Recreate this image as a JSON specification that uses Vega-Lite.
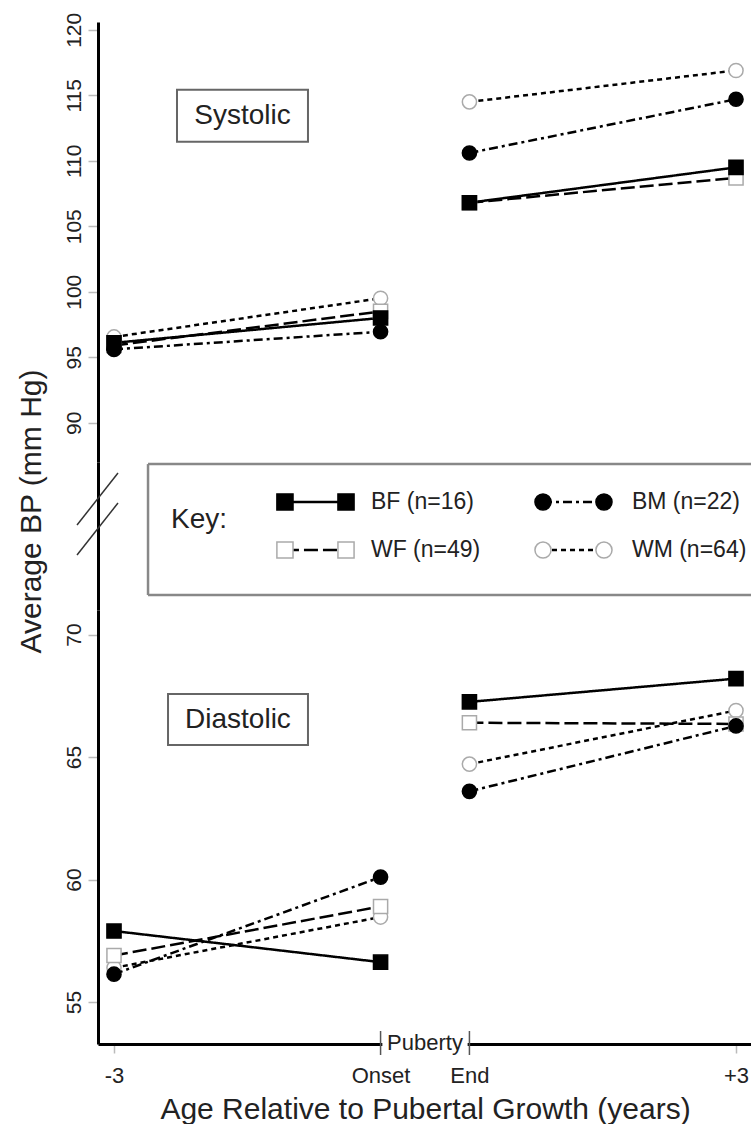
{
  "$schema": "https://vega.github.io/schema/vega-lite/v6.json",
  "background": "white",
  "padding": {"left": 15, "top": 12, "right": 0, "bottom": 0},
  "spacing": 0,
  "bounds": "flush",
  "datasets": {
    "bp": [
      {"panel": "S", "series": "WM", "seg": "pre", "x": 0, "bp": 96.55},
      {"panel": "S", "series": "WM", "seg": "pre", "x": 3, "bp": 99.5},
      {"panel": "S", "series": "WM", "seg": "post", "x": 4, "bp": 114.5},
      {"panel": "S", "series": "WM", "seg": "post", "x": 7, "bp": 116.9},
      {"panel": "S", "series": "WF", "seg": "pre", "x": 0, "bp": 95.9},
      {"panel": "S", "series": "WF", "seg": "pre", "x": 3, "bp": 98.5},
      {"panel": "S", "series": "WF", "seg": "post", "x": 4, "bp": 106.8},
      {"panel": "S", "series": "WF", "seg": "post", "x": 7, "bp": 108.7},
      {"panel": "S", "series": "BM", "seg": "pre", "x": 0, "bp": 95.6},
      {"panel": "S", "series": "BM", "seg": "pre", "x": 3, "bp": 96.95},
      {"panel": "S", "series": "BM", "seg": "post", "x": 4, "bp": 110.6},
      {"panel": "S", "series": "BM", "seg": "post", "x": 7, "bp": 114.7},
      {"panel": "S", "series": "BF", "seg": "pre", "x": 0, "bp": 96.1},
      {"panel": "S", "series": "BF", "seg": "pre", "x": 3, "bp": 98.0},
      {"panel": "S", "series": "BF", "seg": "post", "x": 4, "bp": 106.8},
      {"panel": "S", "series": "BF", "seg": "post", "x": 7, "bp": 109.5},
      {"panel": "D", "series": "WM", "seg": "pre", "x": 0, "bp": 56.4},
      {"panel": "D", "series": "WM", "seg": "pre", "x": 3, "bp": 58.47},
      {"panel": "D", "series": "WM", "seg": "post", "x": 4, "bp": 64.71},
      {"panel": "D", "series": "WM", "seg": "post", "x": 7, "bp": 66.9},
      {"panel": "D", "series": "WF", "seg": "pre", "x": 0, "bp": 56.9},
      {"panel": "D", "series": "WF", "seg": "pre", "x": 3, "bp": 58.9},
      {"panel": "D", "series": "WF", "seg": "post", "x": 4, "bp": 66.4},
      {"panel": "D", "series": "WF", "seg": "post", "x": 7, "bp": 66.35},
      {"panel": "D", "series": "BM", "seg": "pre", "x": 0, "bp": 56.14},
      {"panel": "D", "series": "BM", "seg": "pre", "x": 3, "bp": 60.1},
      {"panel": "D", "series": "BM", "seg": "post", "x": 4, "bp": 63.6},
      {"panel": "D", "series": "BM", "seg": "post", "x": 7, "bp": 66.27},
      {"panel": "D", "series": "BF", "seg": "pre", "x": 0, "bp": 57.9},
      {"panel": "D", "series": "BF", "seg": "pre", "x": 3, "bp": 56.63},
      {"panel": "D", "series": "BF", "seg": "post", "x": 4, "bp": 67.25},
      {"panel": "D", "series": "BF", "seg": "post", "x": 7, "bp": 68.2}
    ],
    "boxes": [
      {"panel": "S", "label": "Systolic", "x": 0.709, "xe": 2.183, "xc": 1.446, "y": 111.45, "ye": 115.42, "yc": 113.43},
      {"panel": "D", "label": "Diastolic", "x": 0.608, "xe": 2.183, "xc": 1.395, "y": 65.49, "ye": 67.57, "yc": 66.53}
    ],
    "legend": [
      {"series": "BF", "label": "BF (n=16)", "lx1": 1.924, "lx2": 2.611, "lt": 2.892, "ly": 7.3},
      {"series": "WF", "label": "WF (n=49)", "lx1": 1.924, "lx2": 2.611, "lt": 2.892, "ly": 4.05},
      {"series": "BM", "label": "BM (n=22)", "lx1": 4.828, "lx2": 5.514, "lt": 5.829, "ly": 7.3},
      {"series": "WM", "label": "WM (n=64)", "lx1": 4.828, "lx2": 5.514, "lt": 5.829, "ly": 4.05}
    ]
  },
  "config": {
    "view": {"stroke": null},
    "font": "Liberation Sans",
    "axis": {
      "grid": false,
      "domain": true,
      "domainColor": "black",
      "domainWidth": 3,
      "tickColor": "#bbbbbb",
      "tickWidth": 1.5,
      "labelFont": "Liberation Sans",
      "titleFont": "Liberation Sans",
      "labelColor": "#222222",
      "titleColor": "#222222",
      "titleFontWeight": "normal"
    },
    "axisY": {"labelAngle": -90, "labelAlign": "center", "labelBaseline": "bottom", "labelFontSize": 21, "tickSize": 10, "labelPadding": 4},
    "axisX": {"labelAngle": 0, "labelFontSize": 22, "tickSize": 9, "labelPadding": 12}
  },
  "vconcat": [
    {
      "width": 654,
      "height": 440,
      "layer": [
        {
          "data": {"name": "bp"},
          "transform": [{"filter": "datum.panel === 'S'"}],
          "mark": {"type": "line", "color": "black", "strokeWidth": 2.5},
          "encoding": {
            "x": {"field": "x", "type": "quantitative", "scale": {"domain": [-0.18, 7.18]}, "axis": null},
            "y": {"field": "bp", "type": "quantitative", "scale": {"domain": [87, 120.6], "nice": false, "zero": false},
                  "axis": {"title": null, "values": [90, 95, 100, 105, 110, 115, 120]}},
            "strokeDash": {"field": "series", "type": "nominal", "scale": {"domain": ["BF", "WF", "BM", "WM"], "range": [[1, 0], [14, 5], [9, 4, 3, 4], [5, 4]]}, "legend": null},
            "detail": {"field": "seg"}
          }
        },
        {
          "data": {"name": "bp"},
          "transform": [{"filter": "datum.panel === 'S'"}],
          "mark": {"type": "point", "filled": true, "size": 200, "strokeWidth": 1.5, "opacity": 1},
          "encoding": {
            "x": {"field": "x", "type": "quantitative", "scale": {"domain": [-0.18, 7.18]}, "axis": null},
            "y": {"field": "bp", "type": "quantitative", "scale": {"domain": [87, 120.6], "nice": false, "zero": false}},
            "shape": {"field": "series", "type": "nominal", "scale": {"domain": ["BF", "WF", "BM", "WM"], "range": ["square", "square", "circle", "circle"]}, "legend": null},
            "fill": {"field": "series", "type": "nominal", "scale": {"domain": ["BF", "WF", "BM", "WM"], "range": ["black", "white", "black", "white"]}, "legend": null},
            "stroke": {"field": "series", "type": "nominal", "scale": {"domain": ["BF", "WF", "BM", "WM"], "range": ["black", "#aaaaaa", "black", "#aaaaaa"]}, "legend": null}
          }
        },
        {
          "data": {"name": "boxes"},
          "transform": [{"filter": "datum.panel === 'S'"}],
          "mark": {"type": "rect", "fill": "white", "stroke": "#666666", "strokeWidth": 2},
          "encoding": {
            "x": {"field": "x", "type": "quantitative", "scale": {"domain": [-0.18, 7.18]}, "axis": null},
            "x2": {"field": "xe"},
            "y": {"field": "y", "type": "quantitative", "scale": {"domain": [87, 120.6], "nice": false, "zero": false}},
            "y2": {"field": "ye"}
          }
        },
        {
          "data": {"name": "boxes"},
          "transform": [{"filter": "datum.panel === 'S'"}],
          "mark": {"type": "text", "fontSize": 28, "font": "Liberation Sans", "color": "#222222", "align": "center", "baseline": "middle"},
          "encoding": {
            "x": {"field": "xc", "type": "quantitative", "scale": {"domain": [-0.18, 7.18]}, "axis": null},
            "y": {"field": "yc", "type": "quantitative", "scale": {"domain": [87, 120.6], "nice": false, "zero": false}},
            "text": {"field": "label"}
          }
        }
      ]
    },
    {
      "width": 654,
      "height": 148,
      "layer": [
        {
          "data": {"values": [
            {"x": 0.383, "xe": 7.18, "y": 9.86, "ye": 9.86},
            {"x": 0.383, "xe": 7.18, "y": 1.01, "ye": 1.01},
            {"x": 0.383, "xe": 0.383, "y": 1.01, "ye": 9.86}
          ]},
          "mark": {"type": "rule", "color": "#888888", "strokeWidth": 2.5},
          "encoding": {
            "x": {"field": "x", "type": "quantitative", "scale": {"domain": [-0.18, 7.18]}, "axis": null},
            "x2": {"field": "xe"},
            "y": {"field": "y", "type": "quantitative", "scale": {"domain": [0, 10], "nice": false, "zero": false},
                  "axis": {"domain": true, "ticks": false, "labels": false, "title": "Average BP (mm Hg)", "titleFontSize": 30, "titleX": -67, "titleY": 49, "titleAngle": -90, "titleAlign": "center", "titleBaseline": "middle"}},
            "y2": {"field": "ye"}
          }
        },
        {
          "data": {"values": [
            {"x": -0.416, "xe": 0.045, "y": 5.74, "ye": 9.26},
            {"x": -0.416, "xe": 0.045, "y": 3.72, "ye": 7.23}
          ]},
          "mark": {"type": "rule", "color": "#333333", "strokeWidth": 1.5},
          "encoding": {
            "x": {"field": "x", "type": "quantitative", "scale": {"domain": [-0.18, 7.18]}, "axis": null},
            "x2": {"field": "xe"},
            "y": {"field": "y", "type": "quantitative", "scale": {"domain": [0, 10], "nice": false, "zero": false}},
            "y2": {"field": "ye"}
          }
        },
        {
          "data": {"values": [{"label": "Key:", "x": 0.641, "y": 6.08}]},
          "mark": {"type": "text", "fontSize": 28, "font": "Liberation Sans", "color": "#222222", "align": "left", "baseline": "middle"},
          "encoding": {
            "x": {"field": "x", "type": "quantitative", "scale": {"domain": [-0.18, 7.18]}, "axis": null},
            "y": {"field": "y", "type": "quantitative", "scale": {"domain": [0, 10], "nice": false, "zero": false}},
            "text": {"field": "label"}
          }
        },
        {
          "data": {"name": "legend"},
          "mark": {"type": "rule", "color": "black", "strokeWidth": 2.5},
          "encoding": {
            "x": {"field": "lx1", "type": "quantitative", "scale": {"domain": [-0.18, 7.18]}, "axis": null},
            "x2": {"field": "lx2"},
            "y": {"field": "ly", "type": "quantitative", "scale": {"domain": [0, 10], "nice": false, "zero": false}},
            "strokeDash": {"field": "series", "type": "nominal", "scale": {"domain": ["BF", "WF", "BM", "WM"], "range": [[1, 0], [14, 5], [9, 4, 3, 4], [5, 4]]}, "legend": null}
          }
        },
        {
          "data": {"name": "legend"},
          "mark": {"type": "point", "filled": true, "size": 260, "strokeWidth": 1.5, "opacity": 1},
          "encoding": {
            "x": {"field": "lx1", "type": "quantitative", "scale": {"domain": [-0.18, 7.18]}, "axis": null},
            "y": {"field": "ly", "type": "quantitative", "scale": {"domain": [0, 10], "nice": false, "zero": false}},
            "shape": {"field": "series", "type": "nominal", "scale": {"domain": ["BF", "WF", "BM", "WM"], "range": ["square", "square", "circle", "circle"]}, "legend": null},
            "fill": {"field": "series", "type": "nominal", "scale": {"domain": ["BF", "WF", "BM", "WM"], "range": ["black", "white", "black", "white"]}, "legend": null},
            "stroke": {"field": "series", "type": "nominal", "scale": {"domain": ["BF", "WF", "BM", "WM"], "range": ["black", "#aaaaaa", "black", "#aaaaaa"]}, "legend": null}
          }
        },
        {
          "data": {"name": "legend"},
          "mark": {"type": "point", "filled": true, "size": 260, "strokeWidth": 1.5, "opacity": 1},
          "encoding": {
            "x": {"field": "lx2", "type": "quantitative", "scale": {"domain": [-0.18, 7.18]}, "axis": null},
            "y": {"field": "ly", "type": "quantitative", "scale": {"domain": [0, 10], "nice": false, "zero": false}},
            "shape": {"field": "series", "type": "nominal", "scale": {"domain": ["BF", "WF", "BM", "WM"], "range": ["square", "square", "circle", "circle"]}, "legend": null},
            "fill": {"field": "series", "type": "nominal", "scale": {"domain": ["BF", "WF", "BM", "WM"], "range": ["black", "white", "black", "white"]}, "legend": null},
            "stroke": {"field": "series", "type": "nominal", "scale": {"domain": ["BF", "WF", "BM", "WM"], "range": ["black", "#aaaaaa", "black", "#aaaaaa"]}, "legend": null}
          }
        },
        {
          "data": {"name": "legend"},
          "mark": {"type": "text", "fontSize": 23, "font": "Liberation Sans", "color": "#222222", "align": "left", "baseline": "middle"},
          "encoding": {
            "x": {"field": "lt", "type": "quantitative", "scale": {"domain": [-0.18, 7.18]}, "axis": null},
            "y": {"field": "ly", "type": "quantitative", "scale": {"domain": [0, 10], "nice": false, "zero": false}},
            "text": {"field": "label"}
          }
        }
      ]
    },
    {
      "width": 654,
      "height": 434,
      "layer": [
        {
          "data": {"name": "bp"},
          "transform": [{"filter": "datum.panel === 'D'"}],
          "mark": {"type": "line", "color": "black", "strokeWidth": 2.5},
          "encoding": {
            "x": {"field": "x", "type": "quantitative", "scale": {"domain": [-0.18, 7.18]},
                  "axis": {"values": [0, 3, 4, 7], "labelExpr": "datum.value === 0 ? '-3' : datum.value === 3 ? 'Onset' : datum.value === 4 ? 'End' : '+3'",
                           "tickColor": {"condition": {"test": "datum.value === 0 || datum.value === 7", "value": "#bbbbbb"}, "value": "rgba(0,0,0,0)"},
                           "title": "Age Relative to Pubertal Growth (years)", "titleFontSize": 30, "titlePadding": 8}},
            "y": {"field": "bp", "type": "quantitative", "scale": {"domain": [53.29, 71.0], "nice": false, "zero": false},
                  "axis": {"title": null, "values": [55, 60, 65, 70]}},
            "strokeDash": {"field": "series", "type": "nominal", "scale": {"domain": ["BF", "WF", "BM", "WM"], "range": [[1, 0], [14, 5], [9, 4, 3, 4], [5, 4]]}, "legend": null},
            "detail": {"field": "seg"}
          }
        },
        {
          "data": {"name": "bp"},
          "transform": [{"filter": "datum.panel === 'D'"}],
          "mark": {"type": "point", "filled": true, "size": 200, "strokeWidth": 1.5, "opacity": 1},
          "encoding": {
            "x": {"field": "x", "type": "quantitative", "scale": {"domain": [-0.18, 7.18]}},
            "y": {"field": "bp", "type": "quantitative", "scale": {"domain": [53.29, 71.0], "nice": false, "zero": false}},
            "shape": {"field": "series", "type": "nominal", "scale": {"domain": ["BF", "WF", "BM", "WM"], "range": ["square", "square", "circle", "circle"]}, "legend": null},
            "fill": {"field": "series", "type": "nominal", "scale": {"domain": ["BF", "WF", "BM", "WM"], "range": ["black", "white", "black", "white"]}, "legend": null},
            "stroke": {"field": "series", "type": "nominal", "scale": {"domain": ["BF", "WF", "BM", "WM"], "range": ["black", "#aaaaaa", "black", "#aaaaaa"]}, "legend": null}
          }
        },
        {
          "data": {"name": "boxes"},
          "transform": [{"filter": "datum.panel === 'D'"}],
          "mark": {"type": "rect", "fill": "white", "stroke": "#666666", "strokeWidth": 2},
          "encoding": {
            "x": {"field": "x", "type": "quantitative", "scale": {"domain": [-0.18, 7.18]}},
            "x2": {"field": "xe"},
            "y": {"field": "y", "type": "quantitative", "scale": {"domain": [53.29, 71.0], "nice": false, "zero": false}},
            "y2": {"field": "ye"}
          }
        },
        {
          "data": {"name": "boxes"},
          "transform": [{"filter": "datum.panel === 'D'"}],
          "mark": {"type": "text", "fontSize": 28, "font": "Liberation Sans", "color": "#222222", "align": "center", "baseline": "middle"},
          "encoding": {
            "x": {"field": "xc", "type": "quantitative", "scale": {"domain": [-0.18, 7.18]}},
            "y": {"field": "yc", "type": "quantitative", "scale": {"domain": [53.29, 71.0], "nice": false, "zero": false}},
            "text": {"field": "label"}
          }
        },
        {
          "data": {"values": [{"x": 3.02, "xe": 3.98, "y": 52.95, "ye": 53.7}]},
          "mark": {"type": "rect", "fill": "white"},
          "encoding": {
            "x": {"field": "x", "type": "quantitative", "scale": {"domain": [-0.18, 7.18]}},
            "x2": {"field": "xe"},
            "y": {"field": "y", "type": "quantitative", "scale": {"domain": [53.29, 71.0], "nice": false, "zero": false}},
            "y2": {"field": "ye"}
          }
        },
        {
          "data": {"values": [{"x": 3, "y": 52.84, "ye": 53.82}, {"x": 4, "y": 52.84, "ye": 53.82}]},
          "mark": {"type": "rule", "color": "#555555", "strokeWidth": 1.5},
          "encoding": {
            "x": {"field": "x", "type": "quantitative", "scale": {"domain": [-0.18, 7.18]}},
            "y": {"field": "y", "type": "quantitative", "scale": {"domain": [53.29, 71.0], "nice": false, "zero": false}},
            "y2": {"field": "ye"}
          }
        },
        {
          "data": {"values": [{"label": "Puberty", "x": 3.5, "y": 53.33}]},
          "mark": {"type": "text", "fontSize": 22, "font": "Liberation Sans", "color": "#222222", "align": "center", "baseline": "middle"},
          "encoding": {
            "x": {"field": "x", "type": "quantitative", "scale": {"domain": [-0.18, 7.18]}},
            "y": {"field": "y", "type": "quantitative", "scale": {"domain": [53.29, 71.0], "nice": false, "zero": false}},
            "text": {"field": "label"}
          }
        }
      ]
    }
  ]
}
